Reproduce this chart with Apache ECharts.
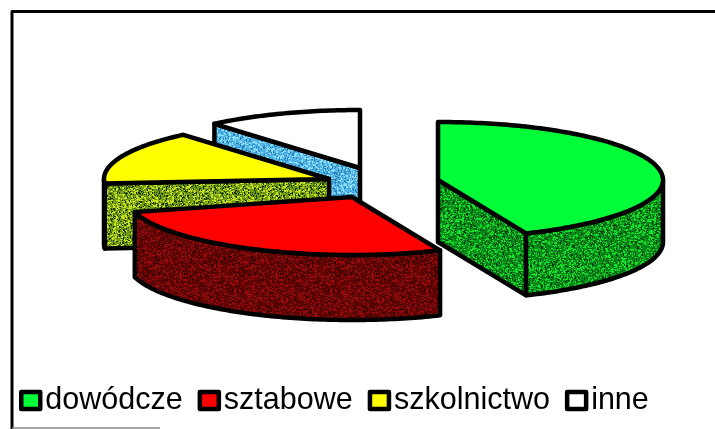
<!DOCTYPE html>
<html><head><meta charset="utf-8">
<style>html,body{margin:0;padding:0;background:#fff}#c{width:715px;height:429px}</style>
<script src="https://cdn.jsdelivr.net/npm/echarts@6/dist/echarts.min.js"></script>
</head><body><div id="c"></div>
<script>
// Data (per cent of the whole)
const categories = ['dowódcze', 'sztabowe', 'szkolnictwo', 'inne'];
const shares = [43.6, 27.2, 18.0, 11.2];

// Styles and layout, kept apart from the data
const topColors  = ['#00ff38', '#ff0000', '#ffff00', '#ffffff'];
const wallBase   = ['#0a8a18', '#620303', '#6f9a12', '#4fb4e6'];
const wallSpeck  = ['#12e02a', '#9a0a0a', '#c8e020', '#8fdcf8'];
const wallDark   = ['#03400a', '#3a0000', '#1e3a04', '#2a80b8'];
const sliceCentre = [[438,180],[352,197],[329,179],[360,168]];
const sliceDepth  = [62,65,65,60];
const sliceStartTrim = [0,0,10.6,0];   // the source drawing leaves this wedge's cut slightly rotated
const sliceZ = [4,3,2,1];
const RX = 225, RY = 58, LINE = 4.5;

function speckle(base, speck, dark, seed){
  const s = 96, cv = document.createElement('canvas');
  cv.width = cv.height = s;
  const g = cv.getContext('2d');
  g.fillStyle = base; g.fillRect(0,0,s,s);
  let r = seed;
  const next = () => (r = (r*1664525 + 1013904223) % 4294967296) / 4294967296;
  for(let i=0;i<s*s/2.6;i++){
    const x = Math.floor(next()*s), y = Math.floor(next()*s), k = next();
    g.fillStyle = k<0.5 ? speck : dark;
    g.fillRect(x,y,k<0.25?2:1,next()<0.3?2:1);
  }
  return cv;
}
const textures = categories.map((_,i)=>speckle(wallBase[i],wallSpeck[i],wallDark[i],1234+i*77));

const total = shares.reduce((a,b)=>a+b,0);
function startAngle(i){ let s=0; for(let k=0;k<i;k++) s+=shares[k]; return s/total*360; }
const rad = d => d*Math.PI/180;

function makeRender(i){
  return function(params, api){
    const span = api.value(0)/total*360;
    const a0 = startAngle(i), a = a0+sliceStartTrim[i], b = a0+span;
    const [cx,cy] = sliceCentre[i], D = sliceDepth[i];
    const P = (t,d=0)=>[cx+RX*Math.sin(rad(t)), cy-RY*Math.cos(rad(t))+d];
    const C = d=>[cx,cy+d];
    const arc = (from,to)=>{ const n=Math.max(2,Math.ceil(Math.abs(to-from))), out=[];
      for(let k=0;k<=n;k++) out.push(P(from+(to-from)*k/n)); return out; };
    const wallStyle = {fill:{image:textures[i],repeat:'repeat'},stroke:'#000',lineWidth:LINE,lineJoin:'round'};
    const kids = [];
    const poly = pts => kids.push({type:'polygon',shape:{points:pts},style:wallStyle});
    // radial cut faces that look toward the viewer
    if(Math.sin(rad(b))>1e-6) poly([C(0),P(b),P(b,D),C(D)]);
    if(-Math.cos(rad(a-90))>1e-6) poly([C(0),P(a),P(a,D),C(D)]);
    // outer rim (front half only)
    const f0=Math.max(a,90), f1=Math.min(b,270);
    if(f1>f0){
      const top=arc(f0,f1), bot=top.map(p=>[p[0],p[1]+D]).reverse();
      poly(top.concat(bot));
    }
    // top face
    kids.push({type:'polygon',shape:{points:[C(0)].concat(arc(a,b))},
      style:{fill:topColors[i],stroke:'#000',lineWidth:LINE,lineJoin:'round'}});
    return {type:'group',children:kids};
  };
}

const option = {
  backgroundColor:'#ffffff',
  animation:false,
  legend:{
    data:categories, left:14, top:380, selectedMode:false,
    icon:'rect', itemWidth:19, itemHeight:17, itemGap:15,
    itemStyle:{borderColor:'#000',borderWidth:4.5,borderJoin:'round'},
    textStyle:{fontFamily:'"Liberation Sans",Arial,sans-serif',fontSize:30.5,color:'#000'}
  },
  graphic:[
    {type:'polyline',silent:true,shape:{points:[[12,429],[12,11.5],[715,11.5]]},style:{stroke:'#000',lineWidth:3,fill:null,lineJoin:'round'}},
    {type:'line',silent:true,shape:{x1:12,y1:428,x2:160,y2:428},style:{stroke:'#8a8a8a',lineWidth:1.5}}
  ],
  series:categories.map((name,i)=>({
    type:'custom', name, coordinateSystem:'none', z:sliceZ[i], silent:true,
    itemStyle:{color:topColors[i],borderColor:'#000',borderWidth:4.5,borderJoin:'round'},
    data:[[shares[i]]],
    renderItem:makeRender(i)
  }))
};
echarts.init(document.getElementById('c'),null,{renderer:'canvas'}).setOption(option);
</script></body></html>
